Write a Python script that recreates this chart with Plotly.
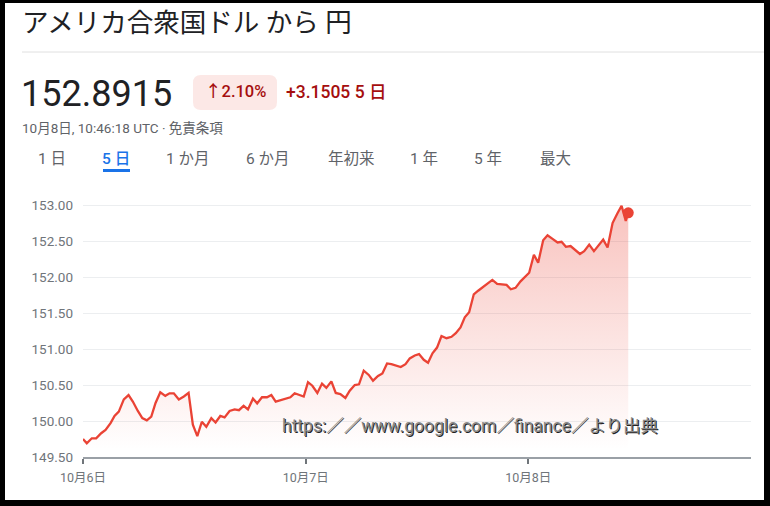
import plotly.graph_objects as go

# ---- data (hours since 10月6日 00:00 UTC, USD/JPY) ----
hours = [0.0, 0.41, 0.95, 1.42, 1.96, 2.43, 2.97, 3.40, 3.86, 4.40, 4.91, 5.37, 5.91, 6.39, 6.88, 7.36,
         7.82, 8.33, 8.87, 9.33, 9.79, 10.33, 10.87, 11.38, 11.84, 12.32, 12.81, 13.29, 13.83, 14.29,
         14.80, 15.26, 15.80, 16.34, 16.81, 17.31, 17.78, 18.32, 18.77, 19.29, 19.83, 20.30, 20.77,
         21.31, 21.85, 22.35, 22.81, 23.28, 23.79, 24.25, 24.72, 25.26, 25.76, 26.23, 26.77, 27.24,
         27.74, 28.28, 28.75, 29.29, 29.75, 30.26, 30.80, 31.26, 31.80, 32.27, 32.77, 33.24, 33.78,
         34.25, 34.76, 35.22, 35.76, 36.22, 36.73, 37.19, 37.67, 38.16, 38.64, 39.18, 39.72, 40.18,
         40.69, 41.15, 41.62, 42.12, 42.59, 43.13, 43.60, 44.12, 44.64, 45.18, 45.65, 46.11, 46.62,
         47.16, 47.62, 48.09, 48.60, 49.06, 49.60, 50.07, 50.61, 51.15, 51.58, 52.05, 52.55, 53.02,
         53.56, 54.02, 54.56, 55.07, 55.61, 56.07, 56.54, 57.08, 57.58, 58.05, 58.50, 58.77]
rates = [149.75, 149.69, 149.76, 149.76, 149.83, 149.875, 149.97, 150.07, 150.13, 150.30, 150.36,
         150.27, 150.14, 150.04, 150.01, 150.06, 150.25, 150.40, 150.35, 150.385, 150.385, 150.30,
         150.34, 150.39, 149.95, 149.79, 149.99, 149.92, 150.04, 149.98, 150.07, 150.05, 150.14,
         150.16, 150.15, 150.21, 150.16, 150.31, 150.245, 150.33, 150.33, 150.36, 150.27, 150.29,
         150.32, 150.33, 150.385, 150.36, 150.34, 150.54, 150.49, 150.39, 150.52, 150.46, 150.55,
         150.39, 150.375, 150.32, 150.42, 150.50, 150.51, 150.70, 150.64, 150.56, 150.625, 150.66,
         150.80, 150.79, 150.77, 150.75, 150.79, 150.87, 150.91, 150.93, 150.85, 150.81, 150.94,
         151.02, 151.18, 151.15, 151.17, 151.22, 151.30, 151.44, 151.51, 151.76, 151.81, 151.86,
         151.90, 151.96, 151.905, 151.90, 151.89, 151.83, 151.85, 151.94, 152.00, 152.06, 152.31,
         152.20, 152.51, 152.58, 152.53, 152.48, 152.49, 152.42, 152.43, 152.375, 152.32, 152.36,
         152.45, 152.36, 152.44, 152.52, 152.41, 152.75, 152.88, 152.99, 152.78, 152.8915]

x_tickvals = [0, 24, 48]
x_ticktext = ["10月6日", "10月7日", "10月8日"]
y_tickvals = [149.5, 150.0, 150.5, 151.0, 151.5, 152.0, 152.5, 153.0]
y_ticktext = ["149.50", "150.00", "150.50", "151.00", "151.50", "152.00", "152.50", "153.00"]

title_text = "アメリカ合衆国ドル から 円"
price_text = "152.8915"
pct_text = "↑2.10%"
chg_text = "+3.1505 5 日"
stamp_text = "10月8日, 10:46:18 UTC · 免責条項"
tabs = ["1 日", "5 日", "1 か月", "6 か月", "年初来", "1 年", "5 年", "最大"]
tab_centers = [52, 116, 188, 268, 351, 424, 488, 555]
watermark = "https:／／www.google.com／finance／より出典"

# ---- layout geometry (pixels) ----
W, H = 770, 506
L, R, T, B = 83, 751, 200, 457
FONT = "Roboto, 'Noto Sans CJK JP', sans-serif"
RED = "#ea4335"


def fx(px):
    return (px - L) / (R - L)


def fy(py):
    return (B - py) / (B - T)


fig = go.Figure()
fig.add_trace(go.Scatter(
    x=hours, y=rates, mode="lines",
    line=dict(color=RED, width=2.3),
    fill="tozeroy",
    fillgradient=dict(type="vertical", start=149.6, stop=153.0,
                      colorscale=[[0, "rgba(234,67,53,0.0)"], [1, "rgba(234,67,53,0.32)"]]),
    hoverinfo="skip", showlegend=False,
))
fig.add_trace(go.Scatter(
    x=[hours[-1]], y=[rates[-1]], mode="markers",
    marker=dict(color=RED, size=11), hoverinfo="skip", showlegend=False,
))

shapes = []


def rect_px(x0, y0, x1, y1, color):
    shapes.append(dict(type="rect", xref="paper", yref="paper",
                       x0=fx(x0), x1=fx(x1), y0=fy(y1), y1=fy(y0),
                       fillcolor=color, line=dict(width=0), layer="above"))


# separator line under title
shapes.append(dict(type="line", xref="paper", yref="paper", x0=fx(22), x1=fx(764),
                   y0=fy(52), y1=fy(52), line=dict(color="#e0e0e0", width=1)))

# rounded pill
px0, py0, px1, py1, r = 193, 75, 277, 110, 8


def P(px, py):
    return f"{fx(px):.5f},{fy(py):.5f}"


path = (f"M {P(px0 + r, py0)} L {P(px1 - r, py0)} Q {P(px1, py0)} {P(px1, py0 + r)} "
        f"L {P(px1, py1 - r)} Q {P(px1, py1)} {P(px1 - r, py1)} "
        f"L {P(px0 + r, py1)} Q {P(px0, py1)} {P(px0, py1 - r)} "
        f"L {P(px0, py0 + r)} Q {P(px0, py0)} {P(px0 + r, py0)} Z")
shapes.append(dict(type="path", xref="paper", yref="paper", path=path,
                   fillcolor="#fce8e6", line=dict(width=0), layer="below"))

# active tab underline
rect_px(103, 169, 130, 172, "#1a73e8")

# black frame
rect_px(0, 0, 770, 3, "black")
rect_px(0, 0, 5, 506, "black")
rect_px(764, 0, 770, 506, "black")
rect_px(0, 500, 770, 506, "black")

ann = []


def text(px, py, s, size, color, anchor="left", weight=None, shadow=None):
    f = dict(family=FONT, size=size, color=color)
    if weight:
        f["weight"] = weight
    if shadow:
        f["shadow"] = shadow
    ann.append(dict(xref="paper", yref="paper", x=fx(px), y=fy(py), text=s,
                    showarrow=False, xanchor=anchor, yanchor="middle", font=f))


text(20, 22, title_text, 26.5, "#202124")
text(19, 94, price_text, 36, "#202124")
text(203, 92, pct_text, 16.5, "#a50e0e", weight=500)
text(284, 92, chg_text, 17.5, "#a50e0e", weight=500)
text(20, 128, stamp_text, 13.5, "#5f6368")
for t, c in zip(tabs, tab_centers):
    text(c, 159, t, 15.5, "#1a73e8" if t == "5 日" else "#5f6368", anchor="center",
         weight=500 if t == "5 日" else None)
text(470, 426, watermark, 17.5, "#8a8a8a", anchor="center",
     shadow="1px 1px 0px #222")

fig.update_layout(
    width=W, height=H,
    margin=dict(l=L, r=W - R, t=T, b=H - B, pad=0),
    paper_bgcolor="white", plot_bgcolor="white",
    font=dict(family=FONT, color="#70757a"),
    shapes=shapes, annotations=ann,
    xaxis=dict(range=[0, 72], tickvals=x_tickvals, ticktext=x_ticktext,
               showgrid=False, zeroline=False, showline=True, linecolor="#9aa0a6", linewidth=1.5,
               ticks="outside", ticklen=5, tickwidth=2, tickcolor="#70757a",
               ticklabelstandoff=3,
               tickfont=dict(size=12.5, color="#70757a"), fixedrange=True),
    yaxis=dict(range=[149.5, 153.07], tickvals=y_tickvals, ticktext=y_ticktext,
               showgrid=True, gridcolor="#eceef0", gridwidth=1, zeroline=False,
               showline=False, ticks="", ticklabelstandoff=9,
               tickfont=dict(size=13.5, color="#70757a"), fixedrange=True),
)

fig.write_html("out.html", config={"displayModeBar": False},
               post_script="document.body.style.margin='0px';")
